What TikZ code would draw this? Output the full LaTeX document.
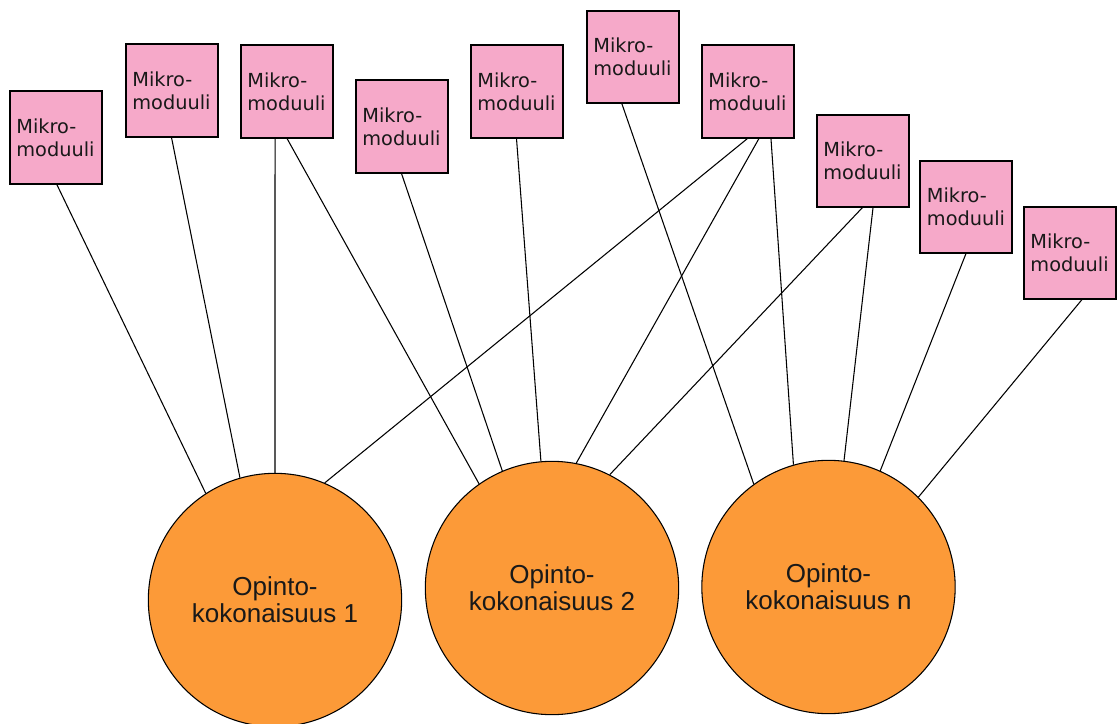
\documentclass[tikz,border=0pt]{standalone}
\usepackage{fontspec}
\setmainfont{Liberation Sans}
\newfontfamily\boxfont{DejaVu Sans}
\definecolor{mpink}{HTML}{F6A9C9}
\definecolor{morange}{HTML}{FC9A38}
\begin{document}
\begin{tikzpicture}[x=0.75pt,y=-0.75pt,
  mbox/.style={draw=black,line width=1.5pt,fill=mpink,minimum size=69pt,inner sep=0pt,
    align=left,font=\boxfont\fontsize{14.5pt}{17.5pt}\selectfont,text=black!90},
  mcirc/.style={draw=black,line width=0.8pt,fill=morange,circle,minimum size=190pt,inner sep=0pt,
    align=center,font=\fontsize{19.5pt}{20pt}\selectfont,text=black!90},
  link/.style={draw=black,line width=0.8pt}]
\useasboundingbox[fill=white] (0,0) rectangle (1117,724);
% connectors first (drawn under nodes)
\node[mcirc] (c1) at (275,600) {Opinto-\\kokonaisuus 1};
\node[mcirc] (c2) at (552,588) {Opinto-\\kokonaisuus 2};
\node[mcirc] (c3) at (828.5,587) {Opinto-\\kokonaisuus n};
\node[mbox] (b1) at (55.5,137.5) {Mikro-\\moduuli};
\node[mbox] (b2) at (171.5,90.5) {Mikro-\\moduuli};
\node[mbox] (b3) at (286.5,91.5) {Mikro-\\moduuli};
\node[mbox] (b4) at (401.5,126.5) {Mikro-\\moduuli};
\node[mbox] (b5) at (516.5,91.5) {Mikro-\\moduuli};
\node[mbox] (b6) at (632.5,57) {Mikro-\\moduuli};
\node[mbox] (b7) at (747.5,91.5) {Mikro-\\moduuli};
\node[mbox] (b8) at (862.5,160.5) {Mikro-\\moduuli};
\node[mbox] (b9) at (966,206.5) {Mikro-\\moduuli};
\node[mbox] (b10) at (1069.5,252.5) {Mikro-\\moduuli};
\begin{scope}[every path/.style={link}]
\draw ([xshift=1pt]b1.south) -- (c1.123.7);
\draw (b2.south) -- (c1.106.1);
\draw ([xshift=-8.6pt]b3.south) -- (c1.90);
\draw (b7.south) -- (c1.67);
\draw ([xshift=0.4pt]b3.south) -- (c2.125.5);
\draw (b4.south) -- (c2.113.2);
\draw (b5.south) -- (c2.95.8);
\draw ([xshift=8.6pt]b7.south) -- (c2.79.2);
\draw (b8.south) -- (c2.63.8);
\draw ([xshift=-7.9pt]b6.south) -- (c3.126.9);
\draw ([xshift=17.6pt]b7.south) -- (c3.106.5);
\draw ([xshift=7.9pt]b8.south) -- (c3.83.4);
\draw (b9.south) -- (c3.66.4);
\draw ([xshift=9.4pt]b10.south) -- (c3.45.8);
\end{scope}
\end{tikzpicture}
\end{document}
